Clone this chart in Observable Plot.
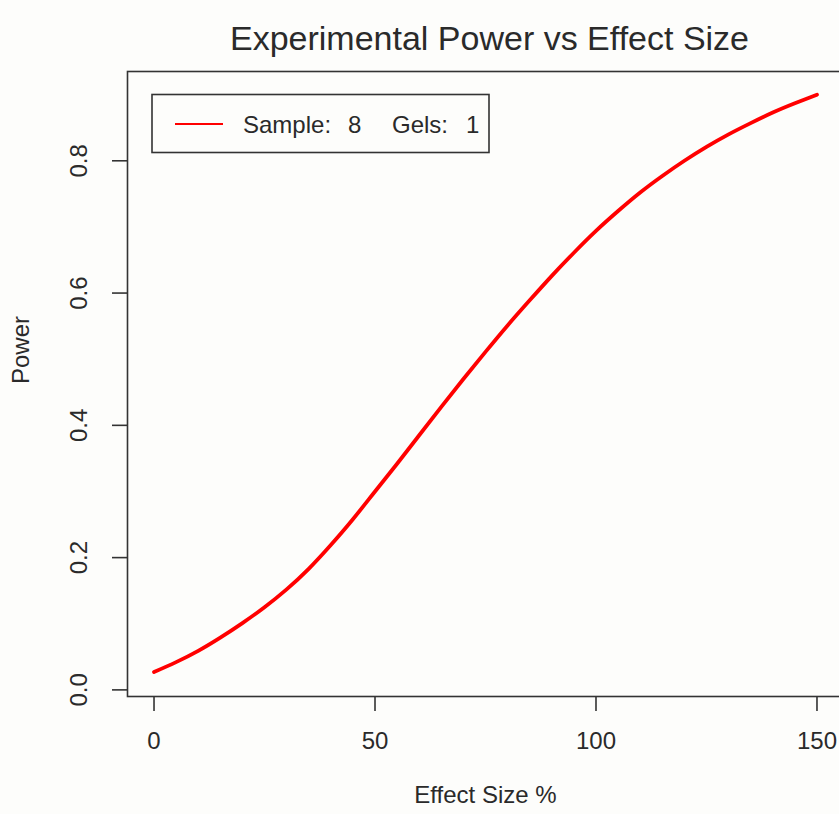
<!DOCTYPE html>
<html>
<head>
<meta charset="utf-8">
<script src="https://cdn.jsdelivr.net/npm/d3@7"></script>
<script src="https://cdn.jsdelivr.net/npm/@observablehq/plot@0.6"></script>
<style>
  html, body { margin: 0; padding: 0; background: #fdfdfb; overflow: hidden; }
  #chart svg { display: block; }
</style>
</head>
<body>
<div id="chart"></div>
<script>
// ---- data ----
const effectSize = [0, 5, 10, 15, 20, 25, 30, 35, 40, 45, 50, 55, 60, 65, 70, 75,
                    80, 85, 90, 95, 100, 105, 110, 115, 120, 125, 130, 135, 140, 145, 150];
const power = [0.027, 0.042, 0.059, 0.079, 0.101, 0.125, 0.152, 0.183, 0.219, 0.258,
               0.300, 0.342, 0.385, 0.428, 0.470, 0.511, 0.551, 0.589, 0.626, 0.661,
               0.694, 0.724, 0.752, 0.777, 0.800, 0.821, 0.840, 0.857, 0.873, 0.887, 0.900];
const xTicks = [0, 50, 100, 150];
const yTicks = [0.0, 0.2, 0.4, 0.6, 0.8];
const titleText = "Experimental Power vs Effect Size";
const xLabel = "Effect Size %";
const yLabel = "Power";
const legendParts = ["Sample:", "8", "Gels:", "1"];

const rows = effectSize.map((x, i) => ({x, y: power[i]}));
const FONT = "'Liberation Sans', Arial, sans-serif";
const INK = "#2a2a2a";

const chart = Plot.plot({
  width: 839,
  height: 814,
  marginLeft: 127,
  marginRight: -4,
  marginTop: 71,
  marginBottom: 118,
  style: {background: "#fdfdfb", fontFamily: FONT, color: INK, overflow: "hidden"},
  x: {domain: [-6, 156]},
  y: {domain: [-0.01, 0.935]},
  marks: [
    Plot.frame({stroke: "#333", strokeWidth: 1.6}),
    Plot.axisX({ticks: xTicks, tickSize: 15, tickPadding: 20, fontSize: 24,
                tickFormat: d => String(d), label: null, stroke: "#333", strokeWidth: 1.6}),
    Plot.axisY({ticks: yTicks, tickSize: 15, tickPadding: 33, fontSize: 24, tickRotate: -90,
                textAnchor: "middle", lineAnchor: "middle",
                tickFormat: d => d.toFixed(1), label: null, stroke: "#333", strokeWidth: 1.6}),
    Plot.line(rows, {x: "x", y: "y", stroke: "#ff0000", strokeWidth: 3.8, curve: "natural"}),
    Plot.text([titleText], {frameAnchor: "top", dy: -46, dx: 4, fontSize: 34, fill: INK}),
    Plot.text([xLabel], {frameAnchor: "bottom", dy: 106, fontSize: 24, fill: INK}),
    Plot.text([yLabel], {frameAnchor: "left", dx: -106, rotate: -90, fontSize: 24, fill: INK})
  ]
});
document.getElementById("chart").appendChild(chart);

// ---- legend (layout only) ----
const svg = d3.select(chart);
const lg = svg.append("g").attr("font-family", FONT).attr("font-size", 24)
  .attr("fill", INK).attr("text-anchor", "start");
lg.append("rect").attr("x", 152).attr("y", 94.5).attr("width", 337).attr("height", 58)
  .attr("fill", "none").attr("stroke", "#333").attr("stroke-width", 1.6);
lg.append("line").attr("x1", 175).attr("x2", 223).attr("y1", 124).attr("y2", 124)
  .attr("stroke", "#ff0000").attr("stroke-width", 2);
const partX = [243, 348, 392, 466];
legendParts.forEach((t, i) => {
  lg.append("text").attr("x", partX[i]).attr("y", 132.5).text(t);
});
</script>
</body>
</html>
